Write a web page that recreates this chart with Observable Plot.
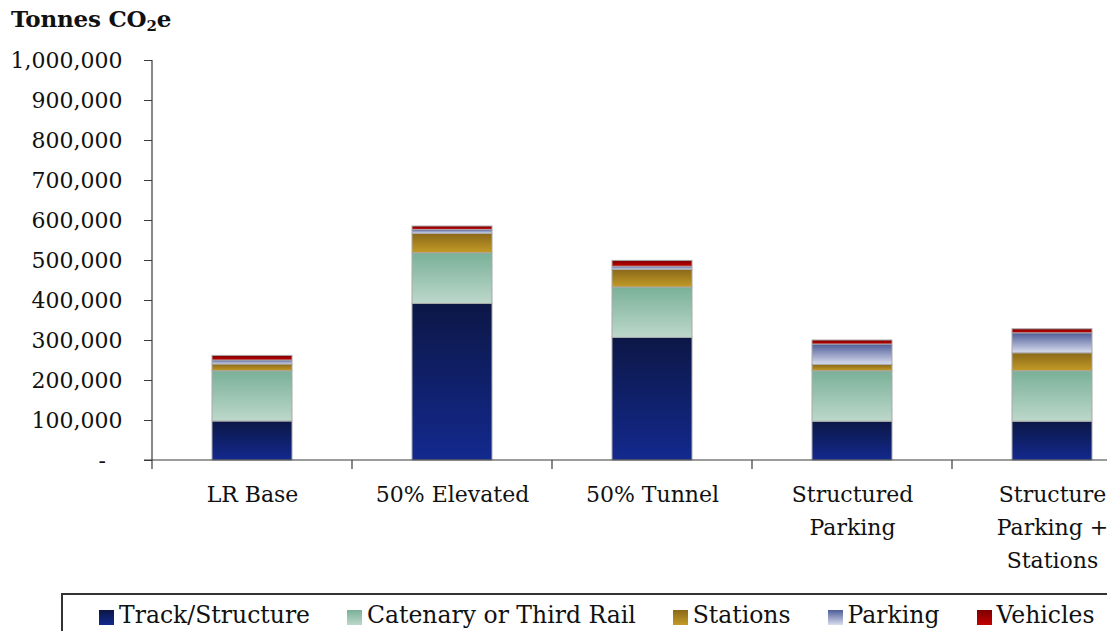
<!DOCTYPE html>
<html>
<head>
<meta charset="utf-8">
<script src="https://cdn.jsdelivr.net/npm/d3@7"></script>
<script src="https://cdn.jsdelivr.net/npm/@observablehq/plot@0.6"></script>
<style>
  html, body { margin: 0; padding: 0; background: #fff; overflow: hidden; }
  #wrap { position: relative; width: 1107px; height: 631px; overflow: hidden; font-family: "DejaVu Serif", serif; color: #111; }
  #title { position: absolute; left: 11px; top: 5px; font-weight: bold; font-size: 23px; letter-spacing: -0.2px; }
  #title sub { font-size: 15px; vertical-align: -4px; line-height: 0; }
  #chart { position: absolute; left: 0; top: 0; }
  #legend { position: absolute; left: 61px; top: 593px; width: 1100px; height: 70px; border: 2px solid #333; box-sizing: border-box;
            display: flex; align-items: flex-start; padding: 6px 0 0 36px; font-size: 23.5px; white-space: nowrap; font-family: "DejaVu Serif", serif; }
  .item { display: flex; align-items: center; margin-right: 37px; }
  .swatch { width: 15px; height: 15px; margin-right: 5px; margin-top: 4px; }
</style>
</head>
<body>
<div id="wrap">
  <div id="chart"></div>
  <div id="title">Tonnes CO<sub>2</sub>e</div>
  <div id="legend"></div>
</div>
<script>
// Scenarios along the x axis
const categories = ["LR Base", "50% Elevated", "50% Tunnel", "Structured Parking", "Structure Parking + Stations"];
const tickLabels = ["LR Base", "50% Elevated", "50% Tunnel", "Structured\nParking", "Structure\nParking +\nStations"];

// Emission components, stacked bottom to top
const series = ["Track/Structure", "Catenary or Third Rail", "Stations", "Parking", "Vehicles"];

// Tonnes CO2e per component, one entry per scenario
const trackStructure = [97500, 391500, 306500, 97000, 97000];
const catenary       = [125500, 126500, 126000, 126000, 126000];
const stations       = [17000, 48500, 44000, 16000, 45000];
const parking        = [10000, 10000, 8000, 51000, 50000];
const vehicles       = [11500, 8500, 14500, 10000, 10000];

const yTicks = [0, 100000, 200000, 300000, 400000, 500000, 600000, 700000, 800000, 900000, 1000000];

// Gradient stops (top, bottom) for each component
const gradTop    = ["#0c1746", "#79b098", "#8a6819", "#4f5c98", "#7c0000"];
const gradBottom = ["#13298e", "#bdd8cb", "#c39b27", "#d8ddee", "#c40000"];

const values = [trackStructure, catenary, stations, parking, vehicles];
const rows = [];
series.forEach((s, si) => categories.forEach((c, ci) => rows.push({category: c, series: s, value: values[si][ci]})));

function gradientDefs() {
  const defs = d3.create("svg:defs");
  series.forEach((s, i) => {
    const g = defs.append("linearGradient").attr("id", `seg${i}`)
      .attr("x1", 0).attr("y1", 0).attr("x2", 0).attr("y2", 1);
    g.append("stop").attr("offset", "0%").attr("stop-color", gradTop[i]);
    g.append("stop").attr("offset", "100%").attr("stop-color", gradBottom[i]);
  });
  return defs.node();
}

// Axis lines and the category separators below the baseline
function axisLines(index, scales, vals, dims) {
  const x = scales.x, y = scales.y;
  const {marginLeft, width} = dims;
  const g = d3.create("svg:g").attr("stroke", "#3a3a3a").attr("stroke-width", 1.2).attr("fill", "none");
  const y0 = y(0);
  g.append("line").attr("x1", marginLeft).attr("x2", marginLeft).attr("y1", y(yTicks[yTicks.length - 1])).attr("y2", y0);
  g.append("line").attr("x1", marginLeft - 8).attr("x2", width).attr("y1", y0).attr("y2", y0);
  const bw = x.bandwidth(), st = x.step();
  const bounds = categories.map(c => x(c) - (st - bw) / 2);
  bounds.push(bounds[bounds.length - 1] + st);
  for (const bx of bounds) {
    g.append("line").attr("x1", bx).attr("x2", bx).attr("y1", y0).attr("y2", y0 + 9);
  }
  return g.node();
}

const fmt = d3.format(",");

const chart = Plot.plot({
  width: 1160,
  height: 590,
  marginLeft: 152,
  marginRight: 8,
  marginTop: 60,
  marginBottom: 130,
  style: {fontFamily: "DejaVu Serif", fontSize: "22px", color: "#111", background: "transparent", maxWidth: "none", overflow: "visible"},
  x: {domain: categories, paddingInner: 0.6, paddingOuter: 0.3, axis: null, label: null},
  y: {domain: [0, 1000000], axis: null, label: null},
  color: {domain: series, range: series.map((s, i) => `url(#seg${i})`)},
  marks: [
    gradientDefs,
    Plot.barY(rows, Plot.stackY({x: "category", y: "value", fill: "series", stroke: "#a9a9a9", strokeWidth: 1})),
    Plot.axisY(yTicks, {
      tickSize: 8, tickPadding: 22, stroke: "#3a3a3a", label: null,
      fontFamily: "DejaVu Serif", fontSize: 22,
      tickFormat: d => d === 0 ? "-\u2002\u2005" : fmt(d)
    }),
    Plot.axisX({
      tickSize: 0, tickPadding: 18, lineHeight: 1.5, label: null,
      fontFamily: "DejaVu Serif", fontSize: 22,
      tickFormat: d => tickLabels[categories.indexOf(d)]
    }),
    axisLines
  ]
});
document.getElementById("chart").appendChild(chart);

// Legend
const legend = d3.select("#legend");
series.forEach((s, i) => {
  const item = legend.append("div").attr("class", "item");
  item.append("div").attr("class", "swatch")
    .style("background", `linear-gradient(${gradTop[i]}, ${gradBottom[i]})`);
  item.append("span").text(s);
});
</script>
</body>
</html>
